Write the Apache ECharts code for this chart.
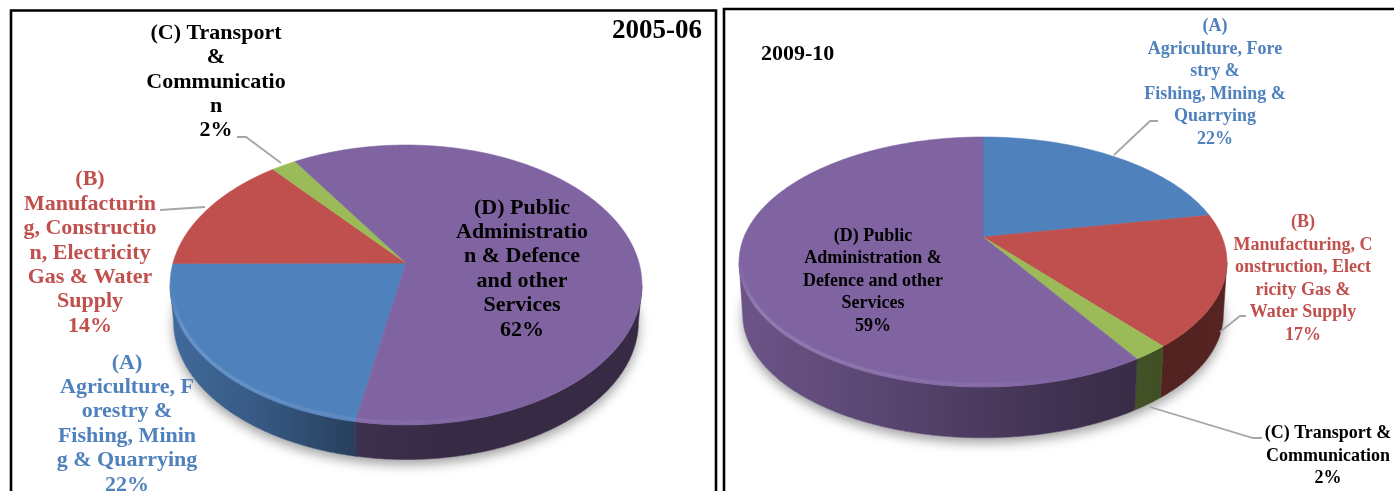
<!DOCTYPE html>
<html>
<head>
<meta charset="utf-8">
<style>html,body{margin:0;padding:0;background:#fff}#chart{width:1394px;height:491px}</style>
<script src="https://cdn.jsdelivr.net/npm/echarts@6/dist/echarts.min.js"></script>
</head>
<body>
<div id="chart"></div>
<script>
// Sector shares of two years, drawn as tilted 3D pies
const sectorIds = ['A', 'B', 'C', 'D'];
const years = ['2005-06', '2009-10'];
const shares2005 = [22, 14, 2, 62];
const shares2009 = [22, 17, 2, 59];
const labels2005 = [
  '(A)\nAgriculture, F\norestry &\nFishing, Minin\ng & Quarrying',
  '(B)\nManufacturin\ng, Constructio\nn, Electricity\nGas & Water\nSupply',
  '(C) Transport\n&\nCommunicatio\nn',
  '(D) Public\nAdministratio\nn & Defence\nand other\nServices'
];
const labels2009 = [
  '(A)\nAgriculture, Fore\nstry &\nFishing, Mining &\nQuarrying',
  '(B)\nManufacturing, C\nonstruction, Elect\nricity Gas &\nWater Supply',
  '(C) Transport &\nCommunication',
  '(D) Public\nAdministration &\nDefence and other\nServices'
];

const FILL = ['#4f81bd', '#c0504d', '#9bbb59', '#8064a2'];
const TEXT = ['#4f81bd', '#c0504d', '#000000', '#000000'];

// Projection and text layout of each pie
const pies = [
  {
    shares: shares2005, labels: labels2005,
    cx: 406, cy: 263, R: 233, S: 136.5, p: 0.157, depth: 37, start: 190.6,
    font: 22, lineHeight: 24.4,
    shade: [[0, .82], [.2, .68], [.4, .48], [.6, .42], [1, .42]],
    text: [[127, 424], [90, 253], [216, 82], [522, 269]],
    leaders: [null, [[160, 210], [205, 207]], [[237, 137], [246, 137], [281, 163]], null]
  },
  {
    shares: shares2009, labels: labels2009,
    cx: 983, cy: 237, R: 239, S: 120, p: 0.2, depth: 53, start: 0,
    font: 18, lineHeight: 22.5,
    shade: [[0, .84], [.33, .68], [.65, .5], [.85, .42], [1, .45]],
    text: [[1215, 83], [1303, 279], [1328, 456], [873, 281]],
    leaders: [[[1158, 121], [1150, 121], [1114, 155]], [[1246, 316], [1240, 316], [1220, 332]], [[1262, 438], [1253, 438], [1150, 407]], null]
  }
];

function rgb(hex) {
  return [1, 3, 5].map(i => parseInt(hex.substr(i, 2), 16));
}
function shadeColor(hex, k) {
  return 'rgb(' + rgb(hex).map(c => Math.round(c * k)).join(',') + ')';
}
function tint(hex, k, a) {
  return 'rgba(' + rgb(hex).map(c => Math.round(c + (255 - c) * k)).join(',') + ',' + a + ')';
}

// Angle clockwise from the back of the pie to a point on its projected rim
function rimPoint(pie, deg) {
  const t = deg * Math.PI / 180;
  const u = Math.sin(t), v = -Math.cos(t);
  const w = 1 / (1 - pie.p * v);
  return [pie.cx + pie.R * u * w, pie.cy + pie.S * v * w];
}
function ellipseMidY(pie) {
  return pie.cy + (pie.S / (1 - pie.p) - pie.S / (1 + pie.p)) / 2;
}
const BASE_SCALE = 0.985;
function lower(pie, pt) {
  return [pie.cx + (pt[0] - pie.cx) * BASE_SCALE, pie.cy + pie.depth + (pt[1] - pie.cy) * BASE_SCALE];
}
function arc(pie, from, to) {
  const pts = [];
  const n = Math.max(2, Math.ceil((to - from) * 2));
  for (let i = 0; i <= n; i++) pts.push(rimPoint(pie, from + (to - from) * i / n));
  return pts;
}

function renderSlice(pie, params) {
  const i = params.dataIndex;
  const total = pie.shares.reduce((a, b) => a + b, 0);
  const before = pie.shares.slice(0, i).reduce((a, b) => a + b, 0);
  const a0 = pie.start + before / total * 360;
  const a1 = a0 + pie.shares[i] / total * 360;
  const midY = ellipseMidY(pie);
  const halfW = pie.R / Math.sqrt(1 - pie.p * pie.p);
  const left = pie.cx - halfW, right = pie.cx + halfW;
  const outer = arc(pie, a0, a1);
  const front = outer.filter(pt => pt[1] >= midY);
  const children = [];

  // soft ground shadow under the whole pie
  if (i === 0) {
    children.push({
      type: 'polygon', z2: 0,
      shape: { points: arc(pie, 0, 360).map(pt => lower(pie, pt)) },
      style: { fill: '#fff', shadowBlur: 12, shadowColor: 'rgba(0,0,0,0.38)', shadowOffsetY: 5 }
    });
  }

  // rim wall, darkening from left to right
  if (front.length > 1) {
    const stops = pie.shade.map(s => ({ offset: s[0], color: shadeColor(FILL[i], s[1]) }));
    const grad = { type: 'linear', x: left, y: 0, x2: right, y2: 0, global: true, colorStops: stops };
    children.push({
      type: 'polygon', z2: 1,
      shape: { points: front.concat(front.slice().reverse().map(pt => lower(pie, pt))) },
      style: { fill: grad, stroke: grad, lineWidth: 0.6 }
    });
  }

  // top face
  children.push({
    type: 'polygon', z2: 2,
    shape: { points: [[pie.cx, pie.cy]].concat(outer) },
    style: { fill: FILL[i], stroke: FILL[i], lineWidth: 0.6 }
  });

  // bevel highlight along the near edge of the top face
  if (front.length > 1) {
    const inset = front.map(pt => [pie.cx + (pt[0] - pie.cx) * 0.994, midY + (pt[1] - midY) * 0.982]);
    children.push({
      type: 'polyline', z2: 3, shape: { points: inset },
      style: {
        fill: null, lineWidth: 3, shadowBlur: 3, shadowColor: tint(FILL[i], 0.2, 0.3),
        stroke: {
          type: 'linear', x: left, y: 0, x2: right, y2: 0, global: true,
          colorStops: [
            { offset: 0, color: tint(FILL[i], 0.2, 0) },
            { offset: 0.03, color: tint(FILL[i], 0.2, 0.7) },
            { offset: 0.5, color: tint(FILL[i], 0.12, 0.4) },
            { offset: 0.75, color: tint(FILL[i], 0, 0) },
            { offset: 1, color: tint(FILL[i], 0, 0) }
          ]
        }
      }
    });
  }

  // leader line
  if (pie.leaders[i]) {
    children.push({
      type: 'polyline', z2: 4, shape: { points: pie.leaders[i] },
      style: { fill: null, stroke: '#a6a6a6', lineWidth: 1.8 }
    });
  }

  // sector name and share
  children.push({
    type: 'text', z2: 5,
    style: {
      x: pie.text[i][0], y: pie.text[i][1],
      text: pie.labels[i] + '\n' + pie.shares[i] + '%',
      align: 'center', verticalAlign: 'middle', lineHeight: pie.lineHeight,
      fill: TEXT[i], font: 'bold ' + pie.font + 'px "Liberation Serif", serif'
    }
  });
  return { type: 'group', children: children };
}

const chart = echarts.init(document.getElementById('chart'), null, { renderer: 'canvas' });
chart.setOption({
  animation: false,
  backgroundColor: '#ffffff',
  title: [
    { text: years[0], left: 612, top: 18, textStyle: { fontFamily: 'Liberation Serif', fontWeight: 'bold', fontSize: 27, color: '#000' }, padding: 0 },
    { text: years[1], left: 761, top: 43, textStyle: { fontFamily: 'Liberation Serif', fontWeight: 'bold', fontSize: 22, color: '#000' }, padding: 0 }
  ],
  graphic: [
    { type: 'polyline', z: 10, shape: { points: [[11, 500], [11, 10.5], [716, 10.5], [716, 500]] }, style: { fill: null, stroke: '#000', lineWidth: 2.6 } },
    { type: 'polyline', z: 10, shape: { points: [[724, 500], [724, 9], [1400, 9]] }, style: { fill: null, stroke: '#000', lineWidth: 2.6 } }
  ],
  series: pies.map((pie, k) => ({
    type: 'custom',
    name: years[k],
    coordinateSystem: 'none',
    silent: true,
    clip: false,
    data: pie.shares.map((v, i) => ({ name: sectorIds[i], value: v })),
    renderItem: params => renderSlice(pie, params)
  }))
});
</script>
</body>
</html>
